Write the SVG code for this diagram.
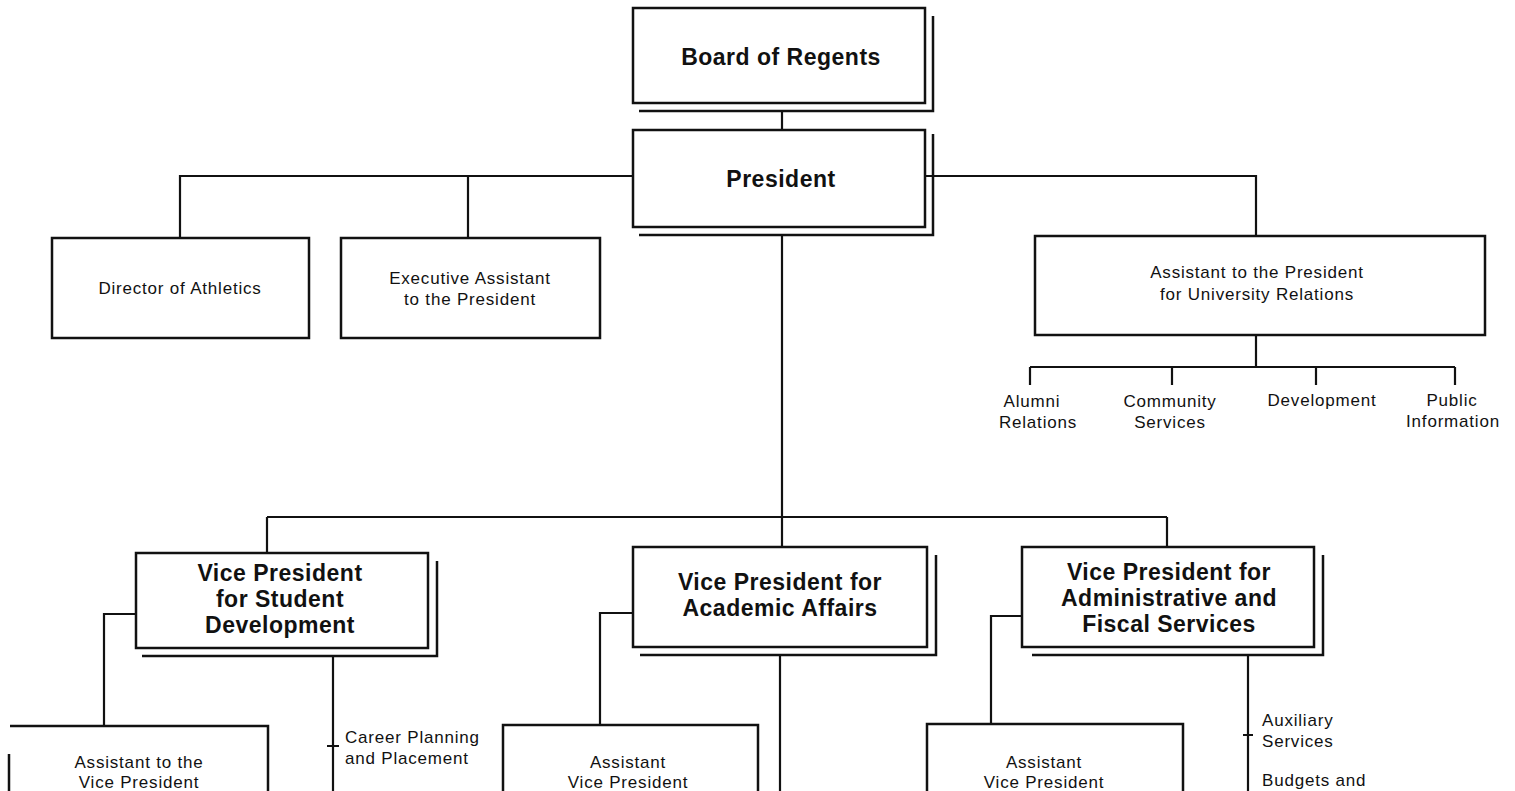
<svg xmlns="http://www.w3.org/2000/svg" width="1515" height="791" viewBox="0 0 1515 791">
<style>
.box{fill:#fff;stroke:#111;stroke-width:2.5}
.sh{fill:none;stroke:#111;stroke-width:2.5}
.ln{fill:none;stroke:#111;stroke-width:2.2}
.b{font-family:"Liberation Sans",Arial,sans-serif;font-weight:bold;font-size:23px;letter-spacing:0.5px;fill:#111;text-anchor:middle}
.r{font-family:"Liberation Sans",Arial,sans-serif;font-size:17px;letter-spacing:0.8px;fill:#111;text-anchor:middle}
.l{text-anchor:start}
</style>
<rect width="1515" height="791" fill="#fff"/>
<g id="connectors">
<path class="ln" d="M782,111 V130"/>
<path class="ln" d="M633,176 H180 V238 M468,176 V238 M925,176 H1256 V236"/>
<path class="ln" d="M782,235 V517 M267,517 H1167 M267,517 V553 M782,517 V547 M1167,517 V547"/>
<path class="ln" d="M1256,335 V367 M1030,367 H1455 M1030,367 V385 M1172,367 V385 M1316,367 V385 M1455,367 V385"/>
<path class="ln" d="M136,614 H104 V726 M333,656 V791 M327,746 H339"/>
<path class="ln" d="M633,613 H600 V725 M780,655 V791"/>
<path class="ln" d="M1022,616 H991 V724 M1248,655 V791 M1243,735 H1253"/>
</g>
<g id="board">
<path class="sh" d="M933,16 V111 H639"/>
<rect class="box" x="633" y="8" width="292" height="95"/>
<text class="b" x="781" y="65">Board of Regents</text>
</g>
<g id="president">
<path class="sh" d="M933,134 V235 H639"/>
<rect class="box" x="633" y="130" width="292" height="97"/>
<text class="b" x="781" y="187">President</text>
</g>
<g id="athletics">
<rect class="box" x="52" y="238" width="257" height="100"/>
<text class="r" x="180" y="294">Director of Athletics</text>
</g>
<g id="exec">
<rect class="box" x="341" y="238" width="259" height="100"/>
<text class="r" x="470" y="284">Executive Assistant</text>
<text class="r" x="470" y="305">to the President</text>
</g>
<g id="univrel">
<rect class="box" x="1035" y="236" width="450" height="99"/>
<text class="r" x="1257" y="278">Assistant to the President</text>
<text class="r" x="1257" y="300">for University Relations</text>
</g>
<g id="alumni"><text class="r" x="1032" y="407">Alumni</text><text class="r" x="1038" y="428">Relations</text></g>
<g id="community"><text class="r" x="1170" y="407">Community</text><text class="r" x="1170" y="428">Services</text></g>
<g id="development"><text class="r" x="1322" y="406">Development</text></g>
<g id="publicinfo"><text class="r" x="1452" y="406">Public</text><text class="r" x="1453" y="427">Information</text></g>
<g id="vpstudent">
<path class="sh" d="M437,561 V656 H142"/>
<rect class="box" x="136" y="553" width="292" height="95"/>
<text class="b" x="280" y="581">Vice President</text>
<text class="b" x="280" y="607">for Student</text>
<text class="b" x="280" y="633">Development</text>
</g>
<g id="vpacademic">
<path class="sh" d="M936,555 V655 H640"/>
<rect class="box" x="633" y="547" width="294" height="100"/>
<text class="b" x="780" y="590">Vice President for</text>
<text class="b" x="780" y="616">Academic Affairs</text>
</g>
<g id="vpadmin">
<path class="sh" d="M1323,555 V655 H1032"/>
<rect class="box" x="1022" y="547" width="292" height="100"/>
<text class="b" x="1169" y="580">Vice President for</text>
<text class="b" x="1169" y="606">Administrative and</text>
<text class="b" x="1169" y="632">Fiscal Services</text>
</g>
<g id="asststudent">
<path class="sh" d="M10,726 H268 V791 M9,754 V791"/>
<text class="r" x="139" y="768">Assistant to the</text>
<text class="r" x="139" y="788">Vice President</text>
</g>
<g id="career"><text class="r l" x="345" y="743">Career Planning</text><text class="r l" x="345" y="764">and Placement</text></g>
<g id="asstacademic">
<path class="sh" d="M503,791 V725 H758 V791"/>
<text class="r" x="628" y="768">Assistant</text>
<text class="r" x="628" y="788">Vice President</text>
</g>
<g id="asstadmin">
<path class="sh" d="M927,791 V724 H1183 V791"/>
<text class="r" x="1044" y="768">Assistant</text>
<text class="r" x="1044" y="788">Vice President</text>
</g>
<g id="auxiliary"><text class="r l" x="1262" y="726">Auxiliary</text><text class="r l" x="1262" y="747">Services</text></g>
<g id="budgets"><text class="r l" x="1262" y="786">Budgets and</text></g>
</svg>
